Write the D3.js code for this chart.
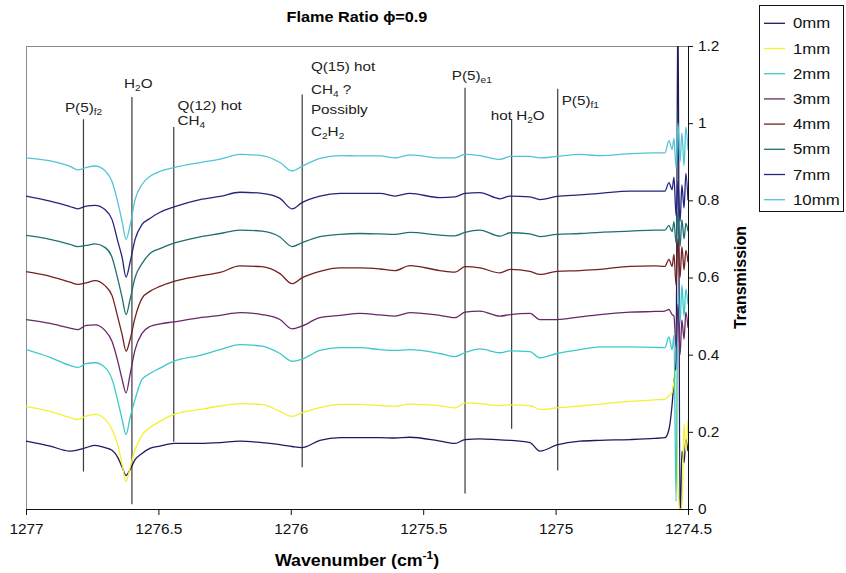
<!DOCTYPE html>
<html>
<head>
<meta charset="utf-8">
<script src="https://cdn.jsdelivr.net/npm/d3@7"></script>
<style>
  body { margin: 0; background: #fff; }
  text { font-family: "Liberation Sans", Arial, sans-serif; }
</style>
</head>
<body>
<svg id="chart" width="846" height="573"></svg>
<script>
// ---------------- DATA ----------------
const wavenumbers = [1277.000, 1276.909, 1276.834, 1276.804, 1276.773, 1276.739, 1276.702, 1276.675, 1276.653, 1276.637,
  1276.622, 1276.607, 1276.588, 1276.562, 1276.532, 1276.494, 1276.441, 1276.343, 1276.267, 1276.192,
  1276.109, 1276.041, 1275.995, 1275.958, 1275.890, 1275.814, 1275.739, 1275.663, 1275.607, 1275.550,
  1275.437, 1275.380, 1275.342, 1275.286, 1275.210, 1275.172, 1275.097, 1275.059, 1274.995, 1274.908,
  1274.832, 1274.719, 1274.625, 1274.587, 1274.572, 1274.560, 1274.553, 1274.545, 1274.538, 1274.530,
  1274.523, 1274.515, 1274.508, 1274.500];

const t0mm = [0.176, 0.163, 0.150, 0.153, 0.159, 0.165, 0.159, 0.152, 0.133, 0.108,
  0.087, 0.102, 0.128, 0.144, 0.157, 0.163, 0.170, 0.170, 0.172, 0.176,
  0.172, 0.167, 0.162, 0.159, 0.178, 0.185, 0.185, 0.185, 0.184, 0.186,
  0.176, 0.170, 0.180, 0.182, 0.179, 0.178, 0.172, 0.150, 0.166, 0.176,
  0.178, 0.180, 0.183, 0.185, 0.206, 0.271, 0.330, 0.380, 1.350, -0.050,
  0.150, 0.120, 0.180, 0.150];
const t1mm = [0.266, 0.253, 0.237, 0.232, 0.241, 0.245, 0.233, 0.206, 0.165, 0.115,
  0.071, 0.108, 0.154, 0.191, 0.211, 0.227, 0.245, 0.258, 0.267, 0.273,
  0.271, 0.253, 0.240, 0.249, 0.263, 0.271, 0.271, 0.268, 0.266, 0.272,
  0.268, 0.262, 0.275, 0.273, 0.268, 0.270, 0.268, 0.258, 0.262, 0.267,
  0.272, 0.279, 0.283, 0.284, 0.294, 0.302, 0.330, 0.360, 0.050, 0.000,
  0.000, 0.220, 0.150, 0.230];
const t2mm = [0.413, 0.393, 0.372, 0.367, 0.377, 0.379, 0.367, 0.336, 0.279, 0.232,
  0.193, 0.237, 0.284, 0.336, 0.351, 0.365, 0.383, 0.398, 0.413, 0.426,
  0.422, 0.403, 0.383, 0.388, 0.411, 0.418, 0.418, 0.413, 0.411, 0.413,
  0.403, 0.395, 0.405, 0.415, 0.405, 0.410, 0.408, 0.392, 0.403, 0.413,
  0.420, 0.420, 0.419, 0.418, 0.446, 0.413, 0.450, 0.020, 0.560, 0.480,
  0.580, 0.500, 0.570, 0.530];
const t3mm = [0.491, 0.481, 0.469, 0.465, 0.476, 0.477, 0.463, 0.434, 0.382, 0.336,
  0.301, 0.349, 0.413, 0.455, 0.473, 0.480, 0.485, 0.496, 0.502, 0.509,
  0.504, 0.491, 0.467, 0.474, 0.496, 0.502, 0.507, 0.503, 0.500, 0.509,
  0.502, 0.496, 0.510, 0.513, 0.500, 0.504, 0.507, 0.491, 0.491, 0.498,
  0.504, 0.510, 0.512, 0.513, 0.517, 0.504, 0.500, 0.420, 0.530, 0.400,
  0.490, 0.440, 0.510, 0.470];
const t4mm = [0.615, 0.603, 0.588, 0.582, 0.586, 0.592, 0.579, 0.553, 0.496, 0.452,
  0.409, 0.439, 0.496, 0.546, 0.564, 0.577, 0.590, 0.604, 0.613, 0.630,
  0.628, 0.610, 0.584, 0.599, 0.616, 0.625, 0.625, 0.622, 0.618, 0.631,
  0.618, 0.614, 0.628, 0.625, 0.612, 0.621, 0.616, 0.608, 0.616, 0.618,
  0.621, 0.629, 0.630, 0.629, 0.647, 0.629, 0.660, 0.580, 0.700, 0.600,
  0.680, 0.620, 0.670, 0.640];
const t5mm = [0.709, 0.699, 0.686, 0.680, 0.683, 0.687, 0.678, 0.652, 0.595, 0.548,
  0.504, 0.543, 0.600, 0.636, 0.662, 0.675, 0.689, 0.705, 0.714, 0.723,
  0.720, 0.705, 0.680, 0.690, 0.706, 0.712, 0.714, 0.713, 0.712, 0.717,
  0.710, 0.708, 0.717, 0.723, 0.707, 0.716, 0.713, 0.706, 0.712, 0.714,
  0.717, 0.720, 0.723, 0.723, 0.735, 0.719, 0.745, 0.690, 0.770, 0.680,
  0.750, 0.700, 0.740, 0.720];
const t7mm = [0.811, 0.798, 0.784, 0.778, 0.785, 0.787, 0.776, 0.750, 0.693, 0.652,
  0.601, 0.639, 0.699, 0.737, 0.753, 0.769, 0.783, 0.802, 0.810, 0.821,
  0.818, 0.805, 0.778, 0.794, 0.811, 0.818, 0.818, 0.818, 0.811, 0.818,
  0.807, 0.809, 0.818, 0.820, 0.804, 0.811, 0.809, 0.802, 0.810, 0.814,
  0.818, 0.824, 0.824, 0.824, 0.846, 0.828, 0.860, 0.760, 0.850, 0.745,
  0.840, 0.780, 0.870, 0.800];
const t10mm = [0.910, 0.902, 0.888, 0.879, 0.885, 0.889, 0.877, 0.849, 0.794, 0.745,
  0.699, 0.735, 0.802, 0.841, 0.862, 0.875, 0.885, 0.898, 0.907, 0.919,
  0.916, 0.898, 0.876, 0.888, 0.909, 0.916, 0.915, 0.915, 0.910, 0.918,
  0.910, 0.910, 0.919, 0.916, 0.906, 0.914, 0.914, 0.910, 0.914, 0.919,
  0.916, 0.921, 0.923, 0.923, 0.955, 0.932, 0.960, 0.885, 1.000, 0.900,
  0.975, 0.890, 0.990, 0.930];

const seriesNames = ["0mm", "1mm", "2mm", "3mm", "4mm", "5mm", "7mm", "10mm"];
const seriesValues = [t0mm, t1mm, t2mm, t3mm, t4mm, t5mm, t7mm, t10mm];
const seriesColors = ["#1c1c5c", "#f2f230", "#3cc8cc", "#682868", "#742020", "#1f7070", "#24247e", "#52c4d6"];

const xTicks = [1277, 1276.5, 1276, 1275.5, 1275, 1274.5];
const yTicks = [0, 0.2, 0.4, 0.6, 0.8, 1, 1.2];

// annotation lines: wavenumber, top and bottom transmission
const annoWn     = [1276.783, 1276.600, 1276.442, 1275.957, 1275.342, 1275.166, 1274.992];
const annoTop    = [1.010, 1.068, 0.990, 1.074, 1.092, 1.010, 1.089];
const annoBottom = [0.097, 0.012, 0.174, 0.108, 0.040, 0.208, 0.100];

// annotation labels (anchor in data units); parts: [text, kind]
const annoLabels = [
  { wn: 1276.853, v: 1.030, parts: [["P(5)"], ["f2", "sub"]] },
  { wn: 1276.630, v: 1.090, parts: [["H"], ["2", "sub"], ["O"]] },
  { wn: 1276.428, v: 1.033, parts: [["Q(12) hot"]] },
  { wn: 1276.428, v: 0.994, parts: [["CH"], ["4", "sub"]] },
  { wn: 1275.924, v: 1.134, parts: [["Q(15) hot"]] },
  { wn: 1275.924, v: 1.076, parts: [["CH"], ["4", "sub"], [" ?"]] },
  { wn: 1275.924, v: 1.024, parts: [["Possibly"]] },
  { wn: 1275.924, v: 0.968, parts: [["C"], ["2", "sub"], ["H"], ["2", "sub"]] },
  { wn: 1275.392, v: 1.113, parts: [["P(5)"], ["e1", "sub"]] },
  { wn: 1275.245, v: 1.007, parts: [["hot H"], ["2", "sub"], ["O"]] },
  { wn: 1274.977, v: 1.048, parts: [["P(5)"], ["f1", "sub"]] }
];

// ---------------- CHART ----------------
const svg = d3.select("#chart");
const padL = 26, padR = 688, padT = 46, padB = 509;

const x = d3.scaleLinear().domain([1277, 1274.5]).range([padL, padR]);
const y = d3.scaleLinear().domain([0, 1.2]).range([padB, padT]);

// widen glyphs horizontally (the reference text is horizontally stretched)
function stretch(sel, sx) {
  sel.each(function () {
    const t = d3.select(this);
    const x0 = +t.attr("x") || 0, y0 = +t.attr("y") || 0;
    t.attr("x", 0).attr("y", 0).attr("transform", `translate(${x0},${y0}) scale(${sx},1)`);
  });
}

svg.append("rect").attr("width", 846).attr("height", 573).attr("fill", "#fff");

// plot area border
svg.append("rect")
  .attr("x", padL + 0.5).attr("y", padT + 0.5)
  .attr("width", padR - padL).attr("height", padB - padT)
  .attr("fill", "none").attr("stroke", "#8a8a8a").attr("stroke-width", 1);

svg.append("clipPath").attr("id", "plotClip")
  .append("rect").attr("x", padL).attr("y", padT).attr("width", padR - padL).attr("height", padB - padT);

// annotation lines
const annoG = svg.append("g");
annoWn.forEach((wn, i) => {
  annoG.append("line")
    .attr("x1", x(wn)).attr("x2", x(wn))
    .attr("y1", y(annoTop[i])).attr("y2", y(annoBottom[i]))
    .attr("stroke", "#3a3a3a").attr("stroke-width", 1.2);
});

// series
const line = d3.line().x((d, i) => x(wavenumbers[i])).y(d => y(d)).curve(d3.curveMonotoneX);
const seriesG = svg.append("g").attr("clip-path", "url(#plotClip)");
seriesValues.forEach((vals, k) => {
  seriesG.append("path")
    .datum(vals)
    .attr("d", line)
    .attr("fill", "none")
    .attr("stroke", seriesColors[k])
    .attr("stroke-width", 1.3)
    .attr("stroke-linejoin", "round");
});

// annotation labels
function richText(sel, parts) {
  let shift = 0;
  parts.forEach(([t, kind]) => {
    const target = kind === "sub" ? 3 : 0;
    sel.append("tspan")
      .attr("dy", target - shift)
      .style("font-size", kind === "sub" ? "9px" : null)
      .text(t);
    shift = target;
  });
}
const annoTexts = [];
annoLabels.forEach(l => {
  const t = svg.append("text")
    .attr("x", x(l.wn)).attr("y", y(l.v))
    .attr("font-size", 13.5).attr("fill", "#222");
  richText(t, l.parts);
  annoTexts.push(t.node());
});
stretch(d3.selectAll(annoTexts), 1.13);

// x axis
const xAxis = d3.axisBottom(x).tickValues(xTicks).tickFormat(d => String(d)).tickSizeOuter(0).tickSize(6).tickPadding(9);
const gx = svg.append("g").attr("transform", `translate(0,${padB})`).call(xAxis);
gx.selectAll("text").attr("font-size", 14).attr("fill", "#111").style("font-family", "Liberation Sans, Arial, sans-serif");
gx.selectAll("path, line").attr("stroke", "#111");
stretch(gx.selectAll("text"), 1.1);

// y axis (right)
const yAxis = d3.axisRight(y).tickValues(yTicks).tickFormat(d => String(+d.toFixed(1))).tickSizeOuter(0).tickSize(5).tickPadding(5);
const gy = svg.append("g").attr("transform", `translate(${padR},0)`).call(yAxis);
gy.selectAll("text").attr("font-size", 14).attr("fill", "#111").style("font-family", "Liberation Sans, Arial, sans-serif");
gy.selectAll("path, line").attr("stroke", "#111");
stretch(gy.selectAll("text"), 1.1);

// title
const title = svg.append("text")
  .attr("x", (padL + padR) / 2).attr("y", 22)
  .attr("text-anchor", "middle").attr("font-size", 14).attr("font-weight", "bold")
  .text("Flame Ratio ϕ=0.9");
stretch(title, 1.16);

// x axis title
const xt = svg.append("text")
  .attr("x", (padL + padR) / 2).attr("y", 566)
  .attr("text-anchor", "middle").attr("font-size", 16.5).attr("font-weight", "bold");
xt.append("tspan").text("Wavenumber (cm");
xt.append("tspan").attr("dy", -7).attr("font-size", 11).text("-1");
xt.append("tspan").attr("dy", 7).text(")");
stretch(xt, 1.08);

// y axis title
svg.append("text")
  .attr("transform", `translate(746,${(padT + padB) / 2}) rotate(-90)`)
  .attr("text-anchor", "middle").attr("font-size", 16).attr("font-weight", "bold")
  .text("Transmission");

// legend
const lg = svg.append("g");
lg.append("rect").attr("x", 759.5).attr("y", 5.5).attr("width", 84).attr("height", 206)
  .attr("fill", "#fff").attr("stroke", "#111").attr("stroke-width", 1);
seriesNames.forEach((name, i) => {
  const cy = 23.3 + i * 25.2;
  lg.append("line").attr("x1", 764).attr("x2", 785).attr("y1", cy).attr("y2", cy)
    .attr("stroke", seriesColors[i]).attr("stroke-width", 1.3);
  const t = lg.append("text").attr("x", 793).attr("y", cy + 5).attr("font-size", 14).attr("fill", "#111").text(name);
  stretch(t, 1.2);
});
</script>
</body>
</html>
